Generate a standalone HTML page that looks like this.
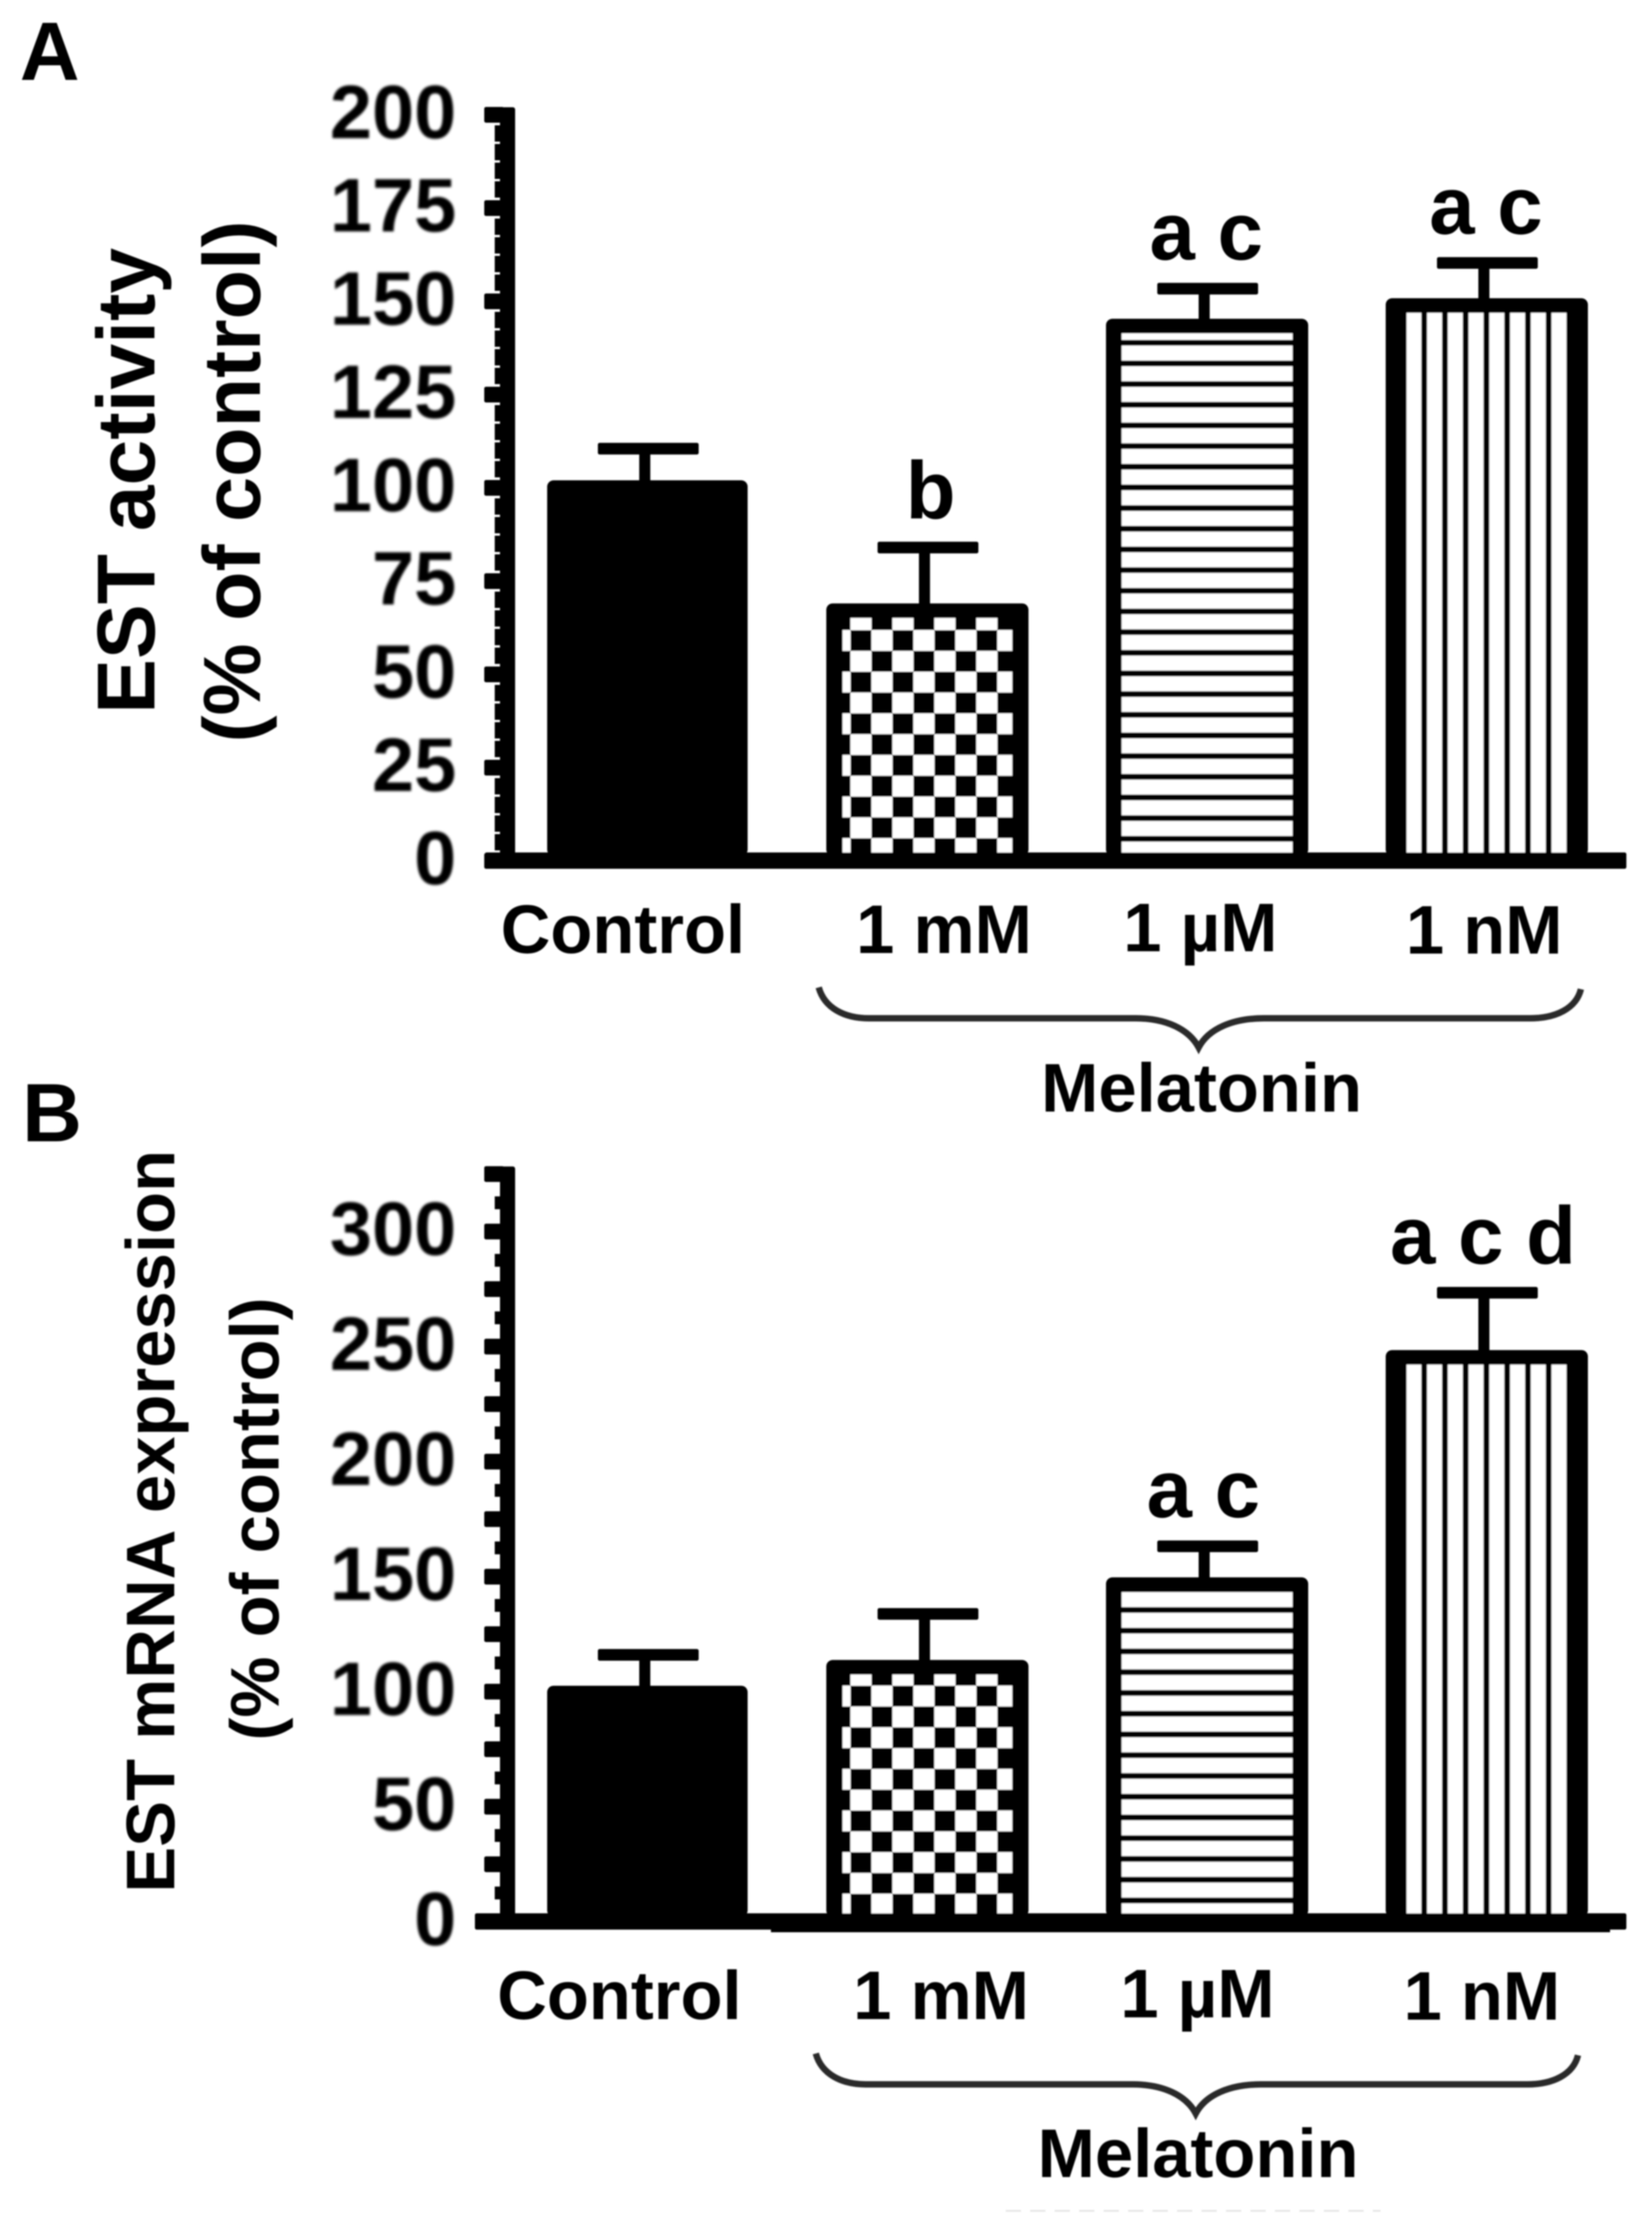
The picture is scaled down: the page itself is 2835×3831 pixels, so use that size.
<!DOCTYPE html>
<html lang="en">
<head>
<meta charset="utf-8">
<title>EST activity and EST mRNA expression</title>
<style>
html,body{margin:0;padding:0;background:#fff;}
svg{display:block;}
text{font-family:"Liberation Sans",sans-serif;font-weight:700;fill:#000;}
</style>
</head>
<body>
<svg id="figure" xmlns="http://www.w3.org/2000/svg" width="2835" height="3831" viewBox="0 0 2835 3831">
  <defs>
    <filter id="soft" filterUnits="userSpaceOnUse" x="0" y="0" width="2835" height="3831"><feGaussianBlur stdDeviation="1.2"/></filter>
    <filter id="softer" filterUnits="userSpaceOnUse" x="0" y="0" width="2835" height="3831"><feGaussianBlur stdDeviation="2.4"/></filter>
    <pattern id="checkA" patternUnits="userSpaceOnUse" x="1459.5" y="1081" width="72" height="71.4"><rect width="72" height="71.4" fill="#fff"/><rect width="36" height="35.7" fill="#000"/><rect x="36" y="35.7" width="36" height="35.7" fill="#000"/></pattern>
    <pattern id="checkB" patternUnits="userSpaceOnUse" x="1459.5" y="2892" width="72" height="71.4"><rect width="72" height="71.4" fill="#fff"/><rect width="36" height="35.7" fill="#000"/><rect x="36" y="35.7" width="36" height="35.7" fill="#000"/></pattern>
    <pattern id="hlineA" patternUnits="userSpaceOnUse" x="0" y="583" width="10" height="35.46"><rect width="10" height="35.46" fill="#fff"/><rect width="10" height="10" fill="#000"/></pattern>
    <pattern id="hlineB" patternUnits="userSpaceOnUse" x="0" y="2757" width="10" height="35.6"><rect width="10" height="35.6" fill="#fff"/><rect width="10" height="10" fill="#000"/></pattern>
    <pattern id="vlineA" patternUnits="userSpaceOnUse" x="2439" y="0" width="35.6" height="10"><rect width="35.6" height="10" fill="#fff"/><rect width="10" height="10" fill="#000"/></pattern>
    <pattern id="vlineB" patternUnits="userSpaceOnUse" x="2439" y="0" width="35.6" height="10"><rect width="35.6" height="10" fill="#fff"/><rect width="10" height="10" fill="#000"/></pattern>
  </defs>
  <rect width="2835" height="3831" fill="#fff"/>
  <g id="main" filter="url(#soft)">
    <text x="34" y="137" font-size="142">A</text>
    <text x="38" y="1958" font-size="142">B</text>

    <text transform="translate(265 825) rotate(-90)" text-anchor="middle" font-size="141">EST activity</text>
    <text transform="translate(446 826) rotate(-90)" text-anchor="middle" font-size="139">(% of control)</text>
    <text transform="translate(299 2610) rotate(-90)" text-anchor="middle" font-size="118">EST mRNA expression</text>
    <text transform="translate(478 2606) rotate(-90)" text-anchor="middle" font-size="118">(% of control)</text>

    <path fill="none" stroke="#2a2a2a" stroke-width="11" d="M1405 1694 C1415 1730 1450 1747 1491 1747 L1949 1747 C2000 1747 2040 1765 2057 1797 C2074 1765 2115 1747 2169 1747 L2626 1747 C2670 1747 2705 1730 2713 1697"/>
    <text x="2062" y="1907" text-anchor="middle" font-size="118">Melatonin</text>
    <path transform="translate(-5 1829)" fill="none" stroke="#2a2a2a" stroke-width="11" d="M1405 1694 C1415 1730 1450 1747 1491 1747 L1949 1747 C2000 1747 2040 1765 2057 1797 C2074 1765 2115 1747 2169 1747 L2626 1747 C2670 1747 2705 1730 2713 1697"/>
    <text x="2056" y="3735" text-anchor="middle" font-size="118">Melatonin</text>
    <line x1="1726" y1="3793" x2="2369" y2="3793" stroke="#e4e4e4" stroke-width="3" stroke-dasharray="26 16"/>

    <g id="panelA"></g>
    <g id="panelB"></g>
  </g>
  <g id="tickTextA" filter="url(#softer)"></g>
  <g id="tickTextB" filter="url(#softer)"></g>
</svg>
<script>
const categories = ['Control', '1 mM', '1 µM', '1 nM'];
const valuesA = [100, 67, 143.3, 148.8];
const errorsA = [10.5, 17, 10.1, 11.5];
const lettersA = ['', 'b', 'a c', 'a c'];
const tickLabelsA = [0, 25, 50, 75, 100, 125, 150, 175, 200];
const majorTicksA = [0, 25, 50, 75, 100, 125, 150, 175, 200];
const valuesB = [99.3, 110.5, 146.4, 245.2];
const errorsB = [16.7, 23.3, 16.8, 28.2];
const lettersB = ['', '', 'a c', 'a c d'];
const tickLabelsB = [0, 50, 100, 150, 200, 250, 300];
const majorTicksB = [0, 25, 50, 75, 100, 125, 150, 175, 200, 225, 250, 275, 300, 325];

const SVG_NS = 'http://www.w3.org/2000/svg';

function mk(parent, tag, attrs, text) {
  const el = document.createElementNS(SVG_NS, tag);
  for (const k in attrs) el.setAttribute(k, attrs[k]);
  if (text !== undefined) el.textContent = text;
  parent.appendChild(el);
  return el;
}

function drawPanel(cfg) {
  const g = document.getElementById(cfg.groupId);
  const tickGroup = document.getElementById(cfg.tickGroupId);
  const yScale = v => cfg.y0 - v * cfg.pxPerUnit;
  const xCenter = i => 1111 + 480 * i;
  const halfWidth = 173;
  const outline = 13;
  const baselineTop = cfg.y0 - 14.5;
  const insets = [0, 28, 27, 36];
  const fills = ['', 'check', 'hline', 'vline'];
  const axisMax = majorTicksMax(cfg.majorTicks);
  let el;

  // minor ticks
  for (let v = cfg.minorStep; v < axisMax; v += cfg.minorStep) {
    if (cfg.majorTicks.includes(v)) continue;
    el = mk(g, 'rect', { x: 849, y: yScale(v) - cfg.minorThick / 2, width: 14, height: cfg.minorThick, fill: '#000' });
    
    
  }
  // major ticks
  cfg.majorTicks.forEach(v => {
    el = mk(g, 'rect', { x: 831, y: yScale(v) - 13.5, width: 34, height: 27, rx: 3, fill: '#000' });
    
    
  });
  // y-axis line
  el = mk(g, 'rect', { x: 858, y: yScale(axisMax) - 13, width: 26, height: cfg.y0 + 13 - (yScale(axisMax) - 13), rx: 4, fill: '#000' });
  
  
  // x-axis line
  el = mk(g, 'rect', { x: cfg.xAxisStart, y: baselineTop, width: 2791 - cfg.xAxisStart, height: 28, rx: 3, fill: '#000' });
  
  

  // y tick labels
  cfg.tickLabels.forEach(v => {
    el = mk(tickGroup, 'text', { x: 783, y: yScale(v) + 40, 'text-anchor': 'end', 'font-size': 130 }, String(v));
    
    
  });

  categories.forEach((cat, i) => {
    const cx = xCenter(i);
    const left = i === 0 ? cx - 172 : cx - halfWidth;
    const top = yScale(cfg.values[i]) - outline;
    const capY = yScale(cfg.values[i] + cfg.errors[i]);
    const slug = cat.replace(/\s+/g, '-').replace('µ', 'u').toLowerCase();

    // error bar stem
    el = mk(g, 'rect', { x: cx - 14, y: capY, width: 19, height: top - capY + 4, fill: '#000' });
    
    
    // error bar cap
    el = mk(g, 'rect', { x: cx - 85, y: capY - 10, width: 173, height: 20, rx: 3, fill: '#000' });
    
    
    // bar outer
    el = mk(g, 'rect', { x: left, y: top, width: i === 0 ? 344 : 347, height: baselineTop + 6 - top, rx: 11, fill: '#000' });
    
    
    // bar hatch fill
    if (i > 0) {
      const inset = insets[i];
      el = mk(g, 'rect', {
        x: left + inset, y: top + 25,
        width: 347 - 2 * inset, height: baselineTop - (top + 25),
        fill: 'url(#' + fills[i] + cfg.suffix + ')'
      });
      
      
    }
    // significance letters
    if (cfg.letters[i]) {
      el = mk(g, 'text', { x: cx - cfg.letterShift + (cfg.letters[i] === 'b' ? 7 : 0), y: capY - 50, 'text-anchor': 'middle', 'font-size': 140 }, cfg.letters[i]);
      
      
    }
    // category label
    el = mk(g, 'text', {
      x: cx + cfg.labelNudge(i),
      y: cfg.labelBaseline + (i === 2 ? -3 : (i === 3 ? 1 : 0)),
      'text-anchor': 'middle', 'font-size': 118
    }, cat);
    
    
  });
}

function majorTicksMax(list) {
  return Math.max.apply(null, list);
}

drawPanel({
  groupId: 'panelA', tickGroupId: 'tickTextA', suffix: 'A',
  y0: 1477, pxPerUnit: 6.4,
  values: valuesA, errors: errorsA, letters: lettersA,
  tickLabels: tickLabelsA, majorTicks: majorTicksA,
  minorStep: 5, minorThick: 28, xAxisStart: 832,
  letterShift: 1, labelBaseline: 1635,
  labelNudge: i => [-42, 29, -11, -4][i]
});

drawPanel({
  groupId: 'panelB', tickGroupId: 'tickTextB', suffix: 'B',
  y0: 3297, pxPerUnit: 3.947,
  values: valuesB, errors: errorsB, letters: lettersB,
  tickLabels: tickLabelsB, majorTicks: majorTicksB,
  minorStep: 12.5, minorThick: 22, xAxisStart: 815,
  letterShift: 6, labelBaseline: 3464,
  labelNudge: i => [-48, 24, -16, -8][i]
});

const thickening = mk(document.getElementById('panelB'), 'rect', { x: 1323, y: 3300, width: 1440, height: 15, fill: '#000' });


</script>
</body>
</html>
